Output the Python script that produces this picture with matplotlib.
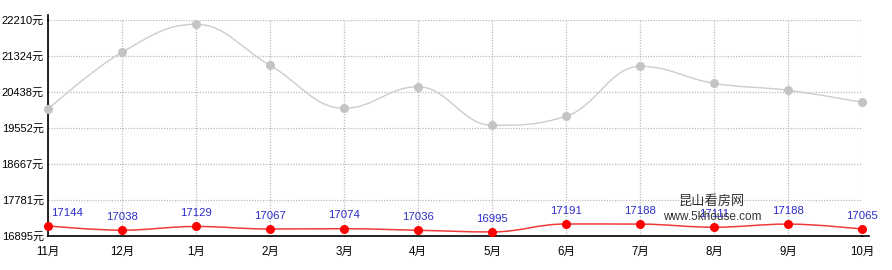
import matplotlib
matplotlib.use("Agg")
import matplotlib.pyplot as plt
from matplotlib.path import Path
from matplotlib.patches import PathPatch
import numpy as np

plt.rcParams["font.family"] = ["Liberation Sans", "Noto Sans CJK SC", "DejaVu Sans"]

months = ["11月", "12月", "1月", "2月", "3月", "4月", "5月", "6月", "7月", "8月", "9月", "10月"]
city_price = [20012, 21415, 22104, 21095, 20037, 20569, 19618, 19839, 21070, 20652, 20480, 20185]
area_price = [17144, 17038, 17129, 17067, 17074, 17036, 16995, 17191, 17188, 17111, 17188, 17065]
y_ticks = [16895, 17781, 18667, 19552, 20438, 21324, 22210]


def spline_path(xs, ys, smoothing=1.5):
    """Bezier path through the points, same idea as a Highcharts spline."""
    denom = smoothing + 1
    n = len(xs)
    left = [(xs[i], ys[i]) for i in range(n)]
    right = [(xs[i], ys[i]) for i in range(n)]
    for i in range(1, n - 1):
        lx = (smoothing * xs[i] + xs[i - 1]) / denom
        ly = (smoothing * ys[i] + ys[i - 1]) / denom
        rx = (smoothing * xs[i] + xs[i + 1]) / denom
        ry = (smoothing * ys[i] + ys[i + 1]) / denom
        if rx != lx:
            corr = (ry - ly) * (rx - xs[i]) / (rx - lx) + ys[i] - ry
            ly += corr
            ry += corr
        if ly > max(ys[i - 1], ys[i]):
            ly = max(ys[i - 1], ys[i]); ry = 2 * ys[i] - ly
        elif ly < min(ys[i - 1], ys[i]):
            ly = min(ys[i - 1], ys[i]); ry = 2 * ys[i] - ly
        if ry > max(ys[i + 1], ys[i]):
            ry = max(ys[i + 1], ys[i]); ly = 2 * ys[i] - ry
        elif ry < min(ys[i + 1], ys[i]):
            ry = min(ys[i + 1], ys[i]); ly = 2 * ys[i] - ry
        left[i] = (lx, ly)
        right[i] = (rx, ry)
    verts = [(xs[0], ys[0])]
    codes = [Path.MOVETO]
    for i in range(1, n):
        verts += [right[i - 1], left[i], (xs[i], ys[i])]
        codes += [Path.CURVE4] * 3
    return Path(verts, codes)


x = np.arange(len(months))

fig = plt.figure(figsize=(8.92, 2.70), dpi=100)
ax = fig.add_axes([48 / 892, 1 - 236 / 270, 814 / 892, 216 / 270])

ax.set_xlim(0, len(months) - 1)
ax.set_ylim(y_ticks[0], y_ticks[-1])

ax.add_patch(PathPatch(spline_path(x, city_price), fill=False, edgecolor="#cccccc", lw=1.0, zorder=3))
ax.plot(x, city_price, "o", color="#c4c4c4", ms=5.5, zorder=4, clip_on=False)

ax.add_patch(PathPatch(spline_path(x, area_price), fill=False, edgecolor="#f03a3a", lw=1.1, zorder=3))
ax.plot(x, area_price, "o", color="#ff0000", ms=5.5, zorder=4, clip_on=False)

for i, v in enumerate(area_price):
    ha = "left" if i == 0 else "center"
    xi = i + 0.04 if i == 0 else i
    ax.annotate(str(v), (xi, v), xytext=(0, 6), textcoords="offset points",
                ha=ha, va="bottom", color="#2b2bcc", fontsize=8.2, zorder=5, clip_on=False)

ax.set_xticks(x)
ax.set_xticklabels(months, fontsize=8.3)
ax.set_yticks(y_ticks)
ax.set_yticklabels([f"{t}元" for t in y_ticks], fontsize=8)
ax.tick_params(axis="x", length=0, pad=7)
ax.tick_params(axis="y", length=0, pad=3)

ax.grid(True, color="#bcbcbc", linestyle=(0, (1, 1.2)), lw=0.9)
ax.set_axisbelow(True)
for side in ["top", "right"]:
    ax.spines[side].set_visible(False)
ax.spines["left"].set_linewidth(1.2)
ax.spines["bottom"].set_linewidth(1.2)
# the axis lines run a little past the plot area
ax.plot([0, 0], [1, 1.025], transform=ax.transAxes, color="black", lw=1.2, clip_on=False)
ax.plot([1, 1.009], [0, 0], transform=ax.transAxes, color="black", lw=1.2, clip_on=False)

fig.text(712 / 892, 1 - 202 / 270, "昆山看房网", ha="center", va="center", fontsize=9.5, color="#333333", zorder=10)
fig.text(712 / 892, 1 - 217 / 270, "www.5khouse.com", ha="center", va="center", fontsize=8.5, color="#333333", zorder=10)

fig.savefig("out.png", dpi=100)
